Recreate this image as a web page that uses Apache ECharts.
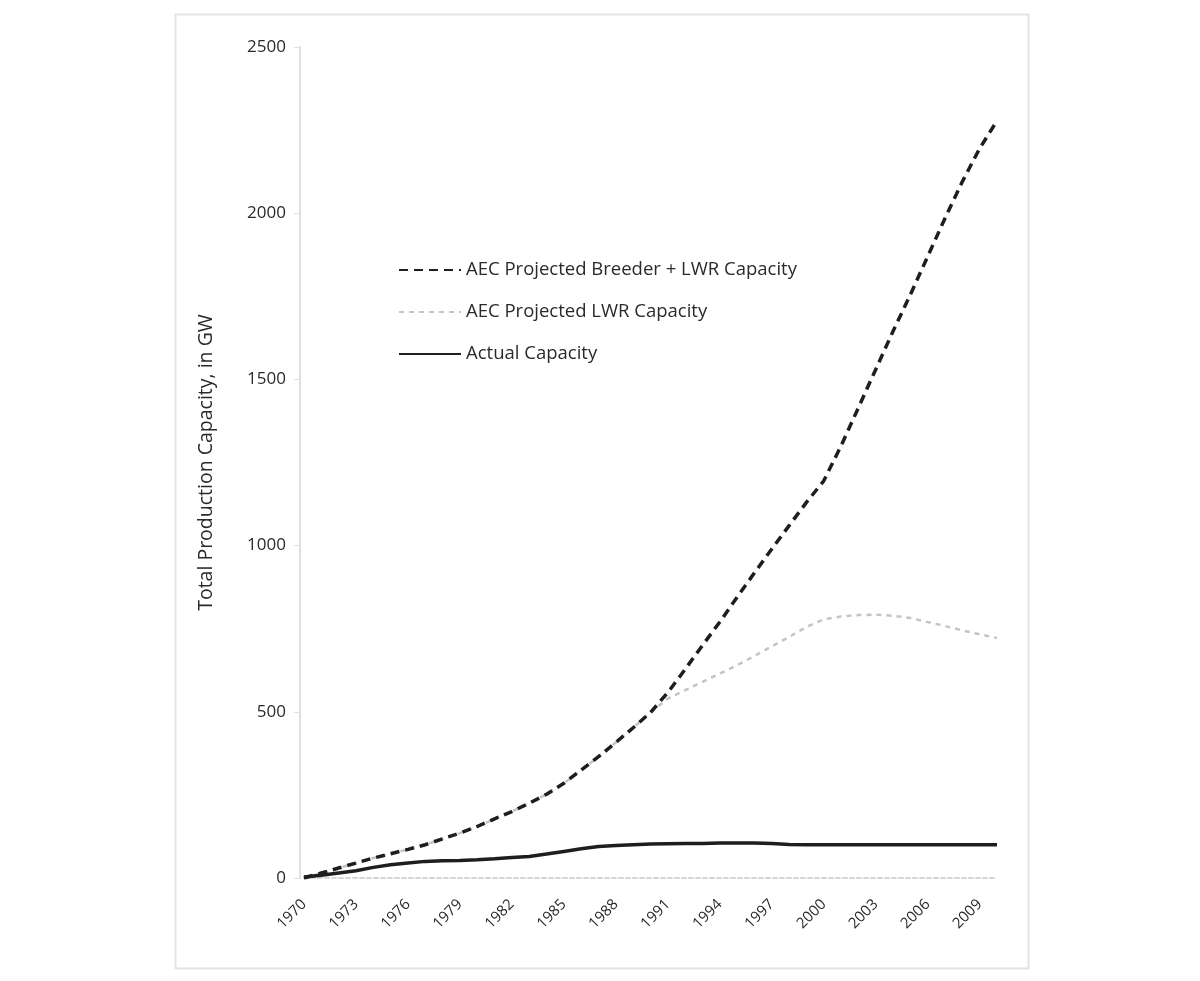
<!DOCTYPE html>
<html>
<head>
<meta charset="utf-8">
<script src="https://cdn.jsdelivr.net/npm/echarts@6/dist/echarts.min.js"></script>
<style>
  html, body { margin: 0; padding: 0; background: #fff; }
  #chart { width: 1200px; height: 981px; }
</style>
</head>
<body>
<div id="chart"></div>
<script>
// years on the category axis, 1970..2010
const years = ['1970','1971','1972','1973','1974','1975','1976','1977','1978','1979',
  '1980','1981','1982','1983','1984','1985','1986','1987','1988','1989',
  '1990','1991','1992','1993','1994','1995','1996','1997','1998','1999',
  '2000','2001','2002','2003','2004','2005','2006','2007','2008','2009','2010'];

// AEC projected breeder + LWR capacity, GW
const breederLwr = [0, 15, 30, 45, 60, 73, 86, 100, 118, 135,
  155, 178, 200, 225, 252, 285, 325, 365, 408, 452,
  498, 558, 628, 700, 770, 845, 918, 990, 1060, 1130,
  1195, 1300, 1415, 1530, 1645, 1755, 1870, 1985, 2095, 2195, 2278];

// AEC projected LWR capacity, GW (hidden under the dashed line until ~1990)
const lwr = [0, 15, 30, 45, 60, 73, 86, 100, 118, 135,
  155, 178, 200, 225, 252, 285, 325, 365, 408, 452,
  498, 540, 565, 590, 615, 640, 668, 697, 725, 755,
  778, 787, 791, 792, 789, 782, 770, 758, 745, 733, 722];

// actual capacity, GW
const actual = [3, 8, 15, 22, 32, 40, 45, 50, 52, 53,
  55, 58, 62, 65, 72, 80, 88, 95, 98, 100,
  102, 103, 104, 104, 105, 105, 105, 104, 101, 100,
  100, 100, 100, 100, 100, 100, 100, 100, 100, 100, 100];

const FONT = '"Open Sans", "Liberation Sans", sans-serif';
const TXT = '#2a2a2a';

const chart = echarts.init(document.getElementById('chart'));
chart.setOption({
  animation: false,
  backgroundColor: '#fff',
  textStyle: { fontFamily: FONT },
  graphic: [{
    type: 'rect', left: 173, top: 12, silent: true,
    shape: { width: 853, height: 954 },
    style: { fill: 'none', stroke: '#e4e4e4', lineWidth: 2 }
  }],
  grid: { left: 304, right: 203, top: 47, bottom: 103, containLabel: false },
  legend: {
    orient: 'vertical', left: 398, top: 260, padding: 0,
    itemWidth: 62, itemHeight: 20, itemGap: 22,
    itemStyle: { opacity: 0 },
    textStyle: { fontFamily: FONT, fontSize: 18.5, lineHeight: 20, color: TXT },
    data: ['AEC Projected Breeder + LWR Capacity', 'AEC Projected LWR Capacity', 'Actual Capacity']
  },
  xAxis: {
    type: 'category', data: years, boundaryGap: false,
    axisLine: { lineStyle: { color: '#d6d6d6', width: 2, type: [4, 3] } },
    axisTick: { show: false },
    axisLabel: { interval: 2, rotate: 45, margin: 24, fontSize: 15, color: TXT, fontFamily: FONT },
    splitLine: { show: false }
  },
  yAxis: {
    type: 'value', min: 0, max: 2500, interval: 500,
    name: 'Total Production Capacity, in GW', nameLocation: 'middle', nameGap: 84,
    nameTextStyle: { fontSize: 19.5, color: TXT, fontFamily: FONT },
    axisLine: { show: true, lineStyle: { color: '#e0e0e0', width: 2 }, onZero: false },
    axisTick: { show: true, length: 6, lineStyle: { color: '#e0e0e0' } },
    axisLabel: { fontSize: 17, color: TXT, margin: 14, fontFamily: FONT, formatter: (v) => String(v) },
    splitLine: { show: false },
    offset: 4
  },
  series: [
    {
      name: 'AEC Projected Breeder + LWR Capacity', type: 'line', data: breederLwr,
      symbol: 'none', z: 4,
      lineStyle: { color: '#1e1e1e', width: 3.5, type: [9, 6] },
      itemStyle: { color: '#1e1e1e' }
    },
    {
      name: 'AEC Projected LWR Capacity', type: 'line', data: lwr,
      symbol: 'none', z: 2,
      lineStyle: { color: '#c4c4c4', width: 2.5, type: [5, 5] },
      itemStyle: { color: '#c4c4c4' }
    },
    {
      name: 'Actual Capacity', type: 'line', data: actual,
      symbol: 'none', z: 3,
      lineStyle: { color: '#1e1e1e', width: 3.5 },
      itemStyle: { color: '#1e1e1e' }
    }
  ]
});
</script>
</body>
</html>
